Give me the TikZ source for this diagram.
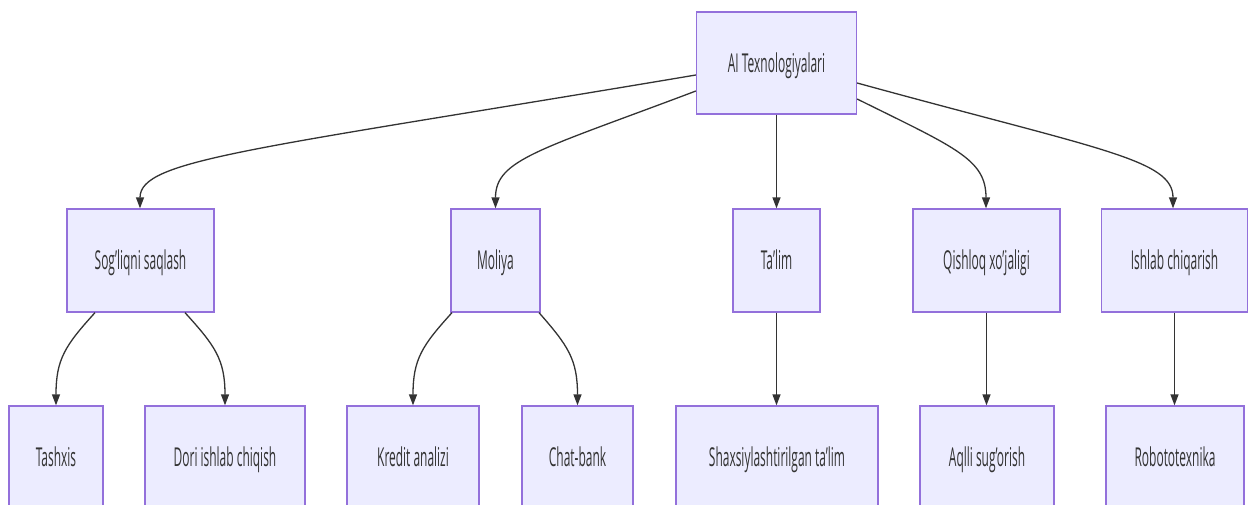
\documentclass[tikz,border=0pt]{standalone}
\usepackage{fontspec}
\setmainfont[FakeStretch=0.46]{Open Sans}
\usetikzlibrary{arrows.meta}
\definecolor{boxfill}{HTML}{ECECFF}
\definecolor{boxline}{HTML}{9370DB}
\definecolor{edgecol}{HTML}{333333}
\tikzset{
  box/.style={draw=boxline, fill=boxfill, line width=1.3pt, inner sep=0pt,
    minimum height=103pt, text=edgecol, text height=18.5pt, text depth=0pt,
    font=\fontsize{26}{30}\selectfont},
  edge/.style={draw=edgecol, line width=1.3pt, -{Triangle[length=11pt,width=8pt]}}
}
\begin{document}
\begin{tikzpicture}[x=1pt,y=-1pt]
\useasboundingbox (0,0) rectangle (1249,504);
% level 1
\node[box, minimum width=160pt, minimum height=102pt] (root) at (776.5,63) {AI Texnologiyalari};
% level 2
\node[box, minimum width=147pt] (sog) at (140.5,260.5) {Sog'liqni saqlash};
\node[box, minimum width=89pt]  (mol) at (495.5,260.5) {Moliya};
\node[box, minimum width=87pt]  (tal) at (776.5,260.5) {Ta'lim};
\node[box, minimum width=147pt] (qis) at (986.5,260.5) {Qishloq xo'jaligi};
\node[box, minimum width=146pt] (ish) at (1174.5,260.5) {Ishlab chiqarish};
% level 3
\node[box, minimum width=94pt]  (tash)  at (56,457.5)   {Tashxis};
\node[box, minimum width=160pt] (dori)  at (225,457.5)  {Dori ishlab chiqish};
\node[box, minimum width=132pt] (kred)  at (413,457.5)  {Kredit analizi};
\node[box, minimum width=111pt] (chat)  at (577.5,457.5){Chat-bank};
\node[box, minimum width=202pt] (shax)  at (777,457.5)  {Shaxsiylashtirilgan ta'lim};
\node[box, minimum width=134pt] (aqlli) at (987,457.5)  {Aqlli sug'orish};
\node[box, minimum width=138pt] (robot) at (1175,457.5) {Robototexnika};
% edges from root
\draw[edge] ([yshift=-12pt]root.west) .. controls +(-446,75) and +(0,-49) .. ([xshift=-0.5pt]sog.north);
\draw[edge] ([yshift=-28pt]root.west) .. controls +(-156,59) and +(0,-49) .. (mol.north);
\draw[edge] (root.south) -- (root.south |- tal.north);
\draw[edge] ([yshift=-36pt]root.east) .. controls +(99,49) and +(0,-49) .. ([xshift=-0.5pt]qis.north);
\draw[edge] ([yshift=-20pt]root.east) .. controls +(244,67) and +(0,-49) .. ([xshift=-1.5pt]ish.north);
% edges to leaves
\draw[edge] ([xshift=-45.5pt]sog.south) .. controls +(-30,33) and +(0,-46) .. (tash.north);
\draw[edge] ([xshift=44.5pt]sog.south) .. controls +(30,33) and +(0,-46) .. (dori.north);
\draw[edge] ([xshift=-43.5pt]mol.south) .. controls +(-30,33) and +(0,-46) .. (kred.north);
\draw[edge] ([xshift=43.5pt]mol.south) .. controls +(29,33) and +(0,-46) .. (chat.north);
\draw[edge] (tal.south) -- (tal.south |- shax.north);
\draw[edge] (qis.south) -- (qis.south |- aqlli.north);
\draw[edge] (ish.south) -- (ish.south |- robot.north);
\end{tikzpicture}
\end{document}
